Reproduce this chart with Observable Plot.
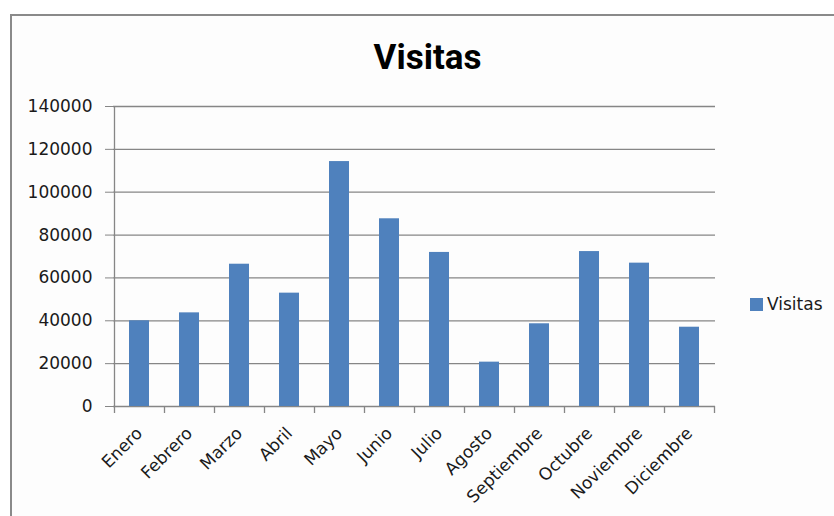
<!DOCTYPE html>
<html>
<head>
<meta charset="utf-8">
<script src="https://cdn.jsdelivr.net/npm/d3@7"></script>
<script src="https://cdn.jsdelivr.net/npm/@observablehq/plot@0.6"></script>
<style>
  body { margin: 0; background: #ffffff; }
  #wrap { position: relative; width: 834px; height: 516px; overflow: hidden; background: #ffffff; }
  #frame { position: absolute; left: 10px; top: 14px; width: 900px; height: 600px; border: 2px solid #8a8a8a; background: #fdfdfd; }
  #title { position: absolute; left: 0; width: 855px; top: 40px; text-align: center; font: bold 35px Roboto, sans-serif; line-height: 35px; color: #000; }
  #legend { position: absolute; left: 750px; top: 294px; height: 20px; display: flex; align-items: center; gap: 4px; font: 17px "DejaVu Sans", sans-serif; color: #1a1a1a; }
  #legend .sw { width: 13px; height: 13px; background: #4F81BD; }
  #chart { position: absolute; left: 0; top: 0; }
</style>
</head>
<body>
<div id="wrap">
  <div id="frame"></div>
  <div id="title">Visitas</div>
  <div id="chart"></div>
  <div id="legend"><div class="sw"></div><span>Visitas</span></div>
</div>
<script>
const months = ["Enero", "Febrero", "Marzo", "Abril", "Mayo", "Junio", "Julio", "Agosto", "Septiembre", "Octubre", "Noviembre", "Diciembre"];
const visitas = [40000, 43700, 66400, 52900, 114300, 87600, 71900, 20700, 38600, 72300, 66900, 37000];
const yTicks = [0, 20000, 40000, 60000, 80000, 100000, 120000, 140000];

const data = months.map((m, i) => ({mes: m, visitas: visitas[i]}));
const grid = "#868686";

const chart = Plot.plot({
  width: 834,
  height: 516,
  marginLeft: 113,
  marginRight: 119,
  marginTop: 106,
  marginBottom: 110,
  style: {background: "transparent", fontFamily: "DejaVu Sans, sans-serif", fontSize: "17px", color: "#1a1a1a", overflow: "visible"},
  x: {domain: months, paddingInner: 0.6, paddingOuter: 0.3, label: null},
  y: {domain: [0, 140000], label: null},
  marks: [
    Plot.ruleY(yTicks, {stroke: grid, strokeWidth: 1.3}),
    Plot.barY(data, {x: "mes", y: "visitas", fill: "#4F81BD"}),
    Plot.ruleX([months[0]], {x: d => d, dx: -25, insetBottom: -7, stroke: grid, strokeWidth: 1.3}),
    Plot.ruleX(months, {x: d => d, dx: 25, insetTop: 300, insetBottom: -7, stroke: grid, strokeWidth: 1.3}),
    Plot.axisY({ticks: yTicks, tickFormat: d3.format("d"), tickSize: 8, tickPadding: 13, stroke: grid, fill: "#1a1a1a", label: null}),
    Plot.axisX({tickSize: 0, tickRotate: -45, tickPadding: 24, fill: "#1a1a1a", label: null})
  ]
});
document.getElementById("chart").appendChild(chart);
</script>
</body>
</html>
